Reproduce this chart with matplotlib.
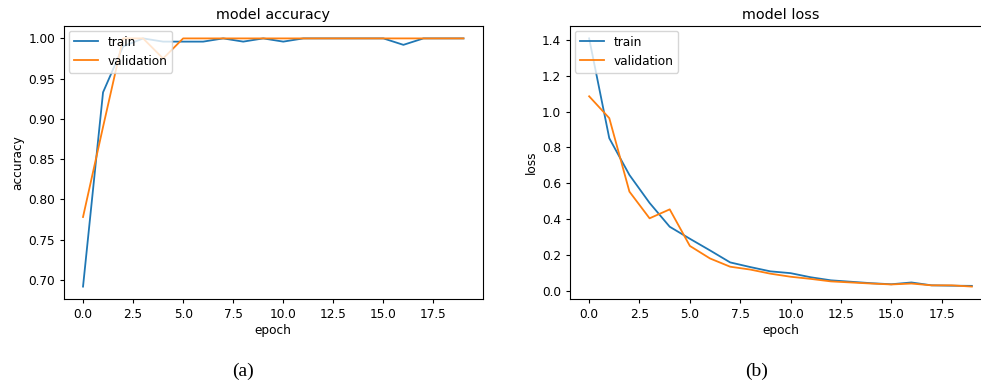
import numpy as np
import matplotlib
matplotlib.use("Agg")
import matplotlib.pyplot as plt

epochs = np.arange(20)

acc_train = [0.6915, 0.933, 0.99, 1.0, 0.996, 0.996, 0.996, 1.0, 0.996, 1.0,
             0.996, 1.0, 1.0, 1.0, 1.0, 1.0, 0.992, 1.0, 1.0, 1.0]
acc_val = [0.778, 0.89, 1.0, 1.0, 0.975, 1.0, 1.0, 1.0, 1.0, 1.0,
           1.0, 1.0, 1.0, 1.0, 1.0, 1.0, 1.0, 1.0, 1.0, 1.0]

loss_train = [1.408, 0.851, 0.646, 0.49, 0.357, 0.29, 0.225, 0.158, 0.132, 0.108,
              0.098, 0.075, 0.058, 0.05, 0.042, 0.036, 0.046, 0.03, 0.028, 0.027]
loss_val = [1.085, 0.963, 0.553, 0.404, 0.454, 0.25, 0.18, 0.134, 0.118, 0.095,
            0.078, 0.066, 0.052, 0.046, 0.04, 0.035, 0.04, 0.03, 0.03, 0.023]

legend_labels = ["train", "validation"]

fs = 8.7
fig = plt.figure(figsize=(9.81, 3.86), dpi=100)

# left: accuracy
ax1 = fig.add_axes([64 / 981, 1 - 299 / 386, (482.5 - 64) / 981, (299 - 26) / 386])
ax1.plot(epochs, acc_train, color="#1f77b4", lw=1.3)
ax1.plot(epochs, acc_val, color="#ff7f0e", lw=1.3)
ax1.set_title("model accuracy", fontsize=10.4, pad=5)
ax1.set_ylabel("accuracy", fontsize=fs, labelpad=3)
ax1.set_xlabel("epoch", fontsize=fs, labelpad=2)
ax1.tick_params(labelsize=fs, length=3)
ax1.legend(legend_labels, loc="upper left", fontsize=fs, borderaxespad=0.4)

# right: loss
ax2 = fig.add_axes([570 / 981, 1 - 299 / 386, (991 - 570) / 981, (299 - 26) / 386])
ax2.plot(epochs, loss_train, color="#1f77b4", lw=1.3)
ax2.plot(epochs, loss_val, color="#ff7f0e", lw=1.3)
ax2.set_title("model loss", fontsize=10.4, pad=5)
ax2.set_ylabel("loss", fontsize=fs, labelpad=3)
ax2.set_xlabel("epoch", fontsize=fs, labelpad=2)
ax2.tick_params(labelsize=fs, length=3)
ax2.legend(legend_labels, loc="upper left", fontsize=fs, borderaxespad=0.4)

fig.text(243 / 981, 1 - 371 / 386, "(a)", family="Liberation Serif", fontsize=14,
         ha="center", va="center")
fig.text(757 / 981, 1 - 371 / 386, "(b)", family="Liberation Serif", fontsize=14,
         ha="center", va="center")

fig.savefig("out.png", dpi=100)
